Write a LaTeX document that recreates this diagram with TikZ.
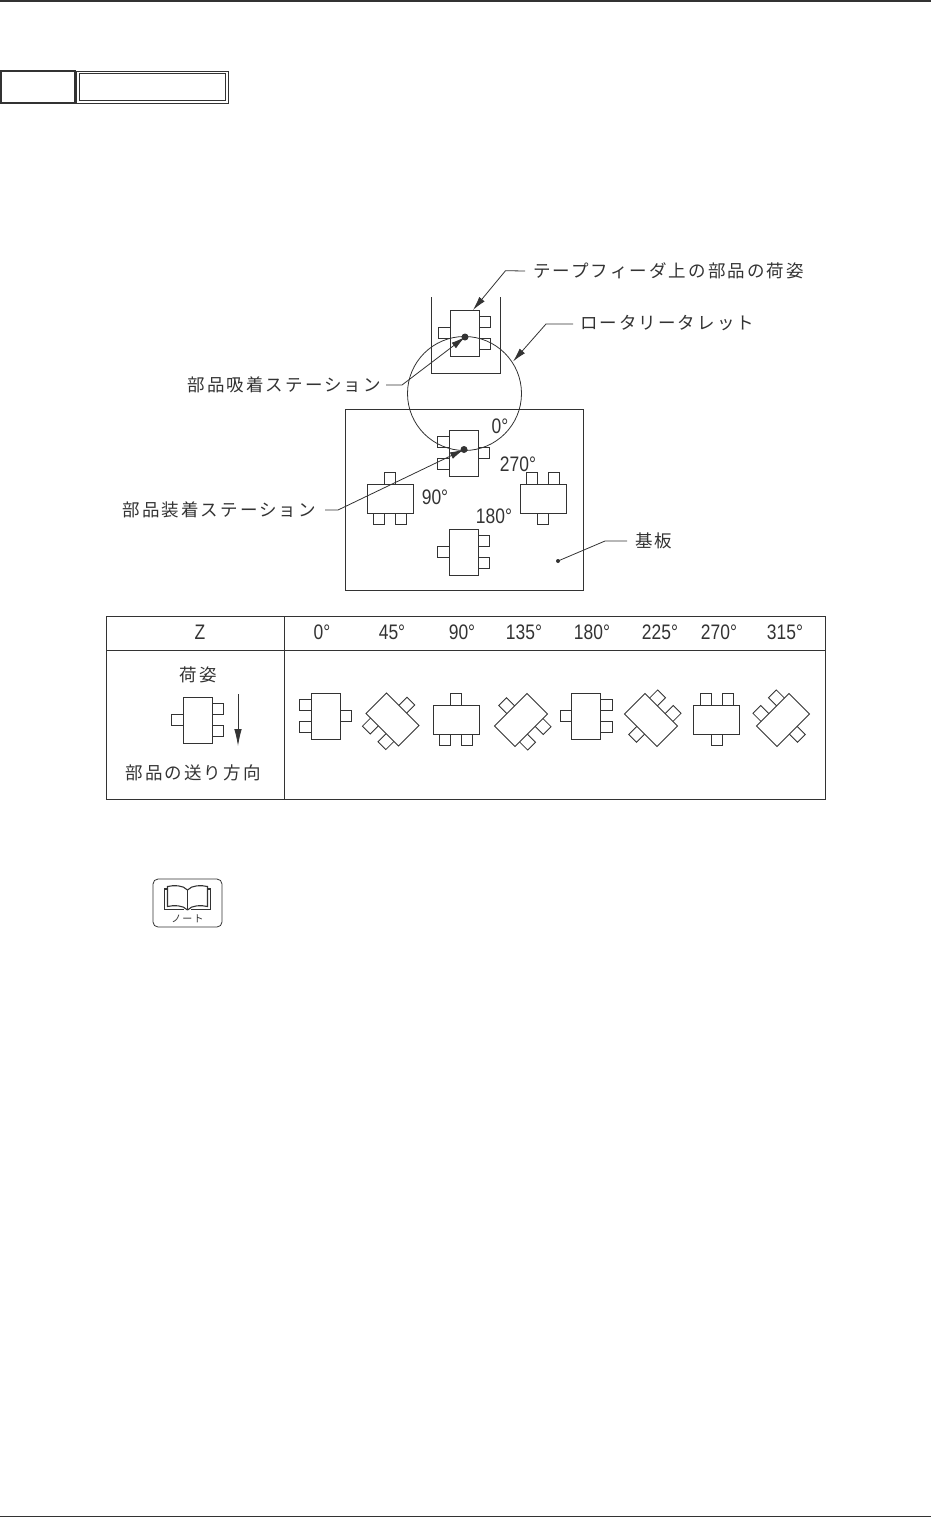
\documentclass[tikz,border=0pt]{standalone}
\usepackage{fontspec}
\usetikzlibrary{arrows.meta,calc}
\setmainfont{Liberation Sans}
\newfontfamily\jpfont[LetterSpace=12]{Noto Sans CJK JP}
\definecolor{ink}{HTML}{333333}
\newcommand{\narrow}[1]{\scalebox{0.83}[1]{#1}}
\tikzset{
  x=1pt,y=-1pt,
  every node/.style={text=ink,inner sep=0pt,outer sep=0pt},
  thinline/.style={draw=ink,line width=0.8pt},
  jplabel/.style={font=\jpfont\fontsize{17.5}{20}\selectfont,anchor=center},
  numlabel/.style={font=\fontsize{21}{24}\selectfont,anchor=center},
  dotmark/.style={circle,fill=ink,draw=none,minimum size=#1},
  lead/.style={thinline,-{Latex[length=14pt,width=7pt]}},
  chip/.pic={
    \draw[thinline,fill=white] (-14.5,-23) rectangle (14.5,23);
    \draw[thinline] (-14.5,-16.5) -- (-26,-16.5) -- (-26,-5.5) -- (-14.5,-5.5);
    \draw[thinline] (-14.5,5.5) -- (-26,5.5) -- (-26,16.5) -- (-14.5,16.5);
    \draw[thinline] (14.5,-5.5) -- (26,-5.5) -- (26,5.5) -- (14.5,5.5);
  },
}
\begin{document}
\begin{tikzpicture}
\useasboundingbox (0,0) rectangle (931,1518);
% page rules
\coordinate (tl) at (0,0.8); \coordinate (tr) at (931,0.8);
\coordinate (bl) at (0,1516.5); \coordinate (br) at (931,1516.5);
\draw[draw=ink,line width=1.5pt] (tl) -- (tr);
\draw[draw=ink,line width=1.5pt] (bl) -- (br);
% heading boxes
\draw[draw=ink,line width=1.8pt] (1,71) rectangle (75,103);
\draw[thinline] (76.5,71) rectangle (228,103);
\draw[thinline] (79.5,73.5) rectangle (225,100.5);
% diagram
\draw[thinline] (431,297) -- (431,373.5) -- (500,373.5) -- (500,297);
\draw[thinline] (345,409) rectangle (583.5,590);
\pic at (464.5,333) [rotate=180] {chip};
\pic at (463.5,453) {chip};
\pic at (390,498.5) [rotate=90] {chip};
\pic at (543,498.5) [rotate=270] {chip};
\pic at (463.5,552) [rotate=180] {chip};
\node[draw=ink,line width=0.8pt,circle,minimum size=114pt,fill=none] (turret) at (464.5,393.5) {};
\node[dotmark=7pt] (pickdot) at (465,337) {};
\node[dotmark=7pt] (mountdot) at (464,449.5) {};
\node[dotmark=4pt] (boarddot) at (558,561) {};
\node[jplabel,anchor=west] (tape) at (533,271) {テープフィーダ上の部品の荷姿};
\node[jplabel,anchor=west] (rot) at (580,323) {ロータリータレット};
\node[jplabel,anchor=east] (pick) at (381,385) {部品吸着ステーション};
\node[jplabel,anchor=east] (mount) at (316,510) {部品装着ステーション};
\node[jplabel,anchor=west] (board) at (635,541) {基板};
\coordinate (tapebend) at (505.5,270.7);
\coordinate (tapetip) at (473,310);
\coordinate (rotbend) at (546,324);
\coordinate (rottip) at (513,361.5);
\coordinate (pickbend) at (402,385);
\coordinate (mountbend) at (338,510);
\coordinate (boardbend) at (605,541);
\draw[lead] ($(tape.west)+(-8,0)$) -- (tapebend) -- (tapetip);
\draw[lead] ($(rot.west)+(-7,1)$) -- (rotbend) -- (rottip);
\draw[lead] ($(pick.east)+(5,0)$) -- (pickbend) -- (pickdot.center);
\draw[lead] ($(mount.east)+(9,0)$) -- (mountbend) -- (mountdot.center);
\draw[thinline] ($(board.west)+(-8,0)$) -- (boardbend) -- (boarddot.center);
\node[numlabel] (a0) at (500,426) {\narrow{0°}};
\node[numlabel] (a270) at (518,464) {\narrow{270°}};
\node[numlabel] (a90) at (435,497) {\narrow{90°}};
\node[numlabel] (a180) at (494,516) {\narrow{180°}};
% table
\draw[thinline] (106,616) rectangle (825,799);
\draw[thinline] (106,650) -- (825,650);
\draw[thinline] (284.5,616) -- (284.5,799);
\node[numlabel] (hz) at (200,632) {\narrow{Z}};
\node[numlabel] (h0) at (322,632) {\narrow{0°}};
\node[numlabel] (h45) at (392,632) {\narrow{45°}};
\node[numlabel] (h90) at (462,632) {\narrow{90°}};
\node[numlabel] (h135) at (524,632) {\narrow{135°}};
\node[numlabel] (h180) at (592,632) {\narrow{180°}};
\node[numlabel] (h225) at (660,632) {\narrow{225°}};
\node[numlabel] (h270) at (719,632) {\narrow{270°}};
\node[numlabel] (h315) at (785,632) {\narrow{315°}};
\pic at (325.5,716) {chip};
\pic at (392.5,719.5) [rotate=45] {chip};
\pic at (456,719.5) [rotate=90] {chip};
\pic at (521,720) [rotate=135] {chip};
\pic at (586,716) [rotate=180] {chip};
\pic at (651,720) [rotate=225] {chip};
\pic at (716.5,719.5) [rotate=270] {chip};
\pic at (783,720) [rotate=315] {chip};
\pic at (197.5,720) [rotate=180] {chip};
\node[jplabel] (nisugata) at (198,675) {荷姿};
\node[jplabel] (feed) at (193,773) {部品の送り方向};
\coordinate (feedtop) at (238,694);
\coordinate (feedend) at (238,746);
\draw[thinline,-{Latex[length=17pt,width=7.5pt]}] (feedtop) -- (feedend);
% note icon
\draw[thinline,rounded corners=5pt] (153,879) rectangle (222,927);
\begin{scope}[draw=ink,line width=1.1pt]
  \draw (164.5,909.5) -- (164.5,889) -- (167.5,889);
  \draw (210.5,909.5) -- (210.5,889) -- (207.5,889);
  \draw (164.5,909.5) -- (184,909.5) (191,909.5) -- (210.5,909.5);
  \draw (187.5,890) .. controls (183,885) and (174,885) .. (167.5,886.5) -- (167.5,906.5) .. controls (174,905) and (183,905) .. (187.5,910);
  \draw (187.5,890) .. controls (192,885) and (201,885) .. (207.5,886.5) -- (207.5,906.5) .. controls (201,905) and (192,905) .. (187.5,910);
  \draw (187.5,890) -- (187.5,910);
\end{scope}
\node[font=\jpfont\fontsize{10}{12}\selectfont] (notetext) at (187.5,919) {ノート};
\end{tikzpicture}
\end{document}
